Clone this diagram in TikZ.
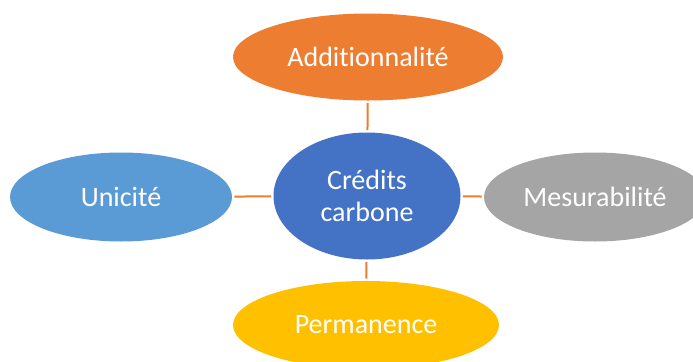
\documentclass[tikz,border=0pt]{standalone}
\usepackage{fontspec}
\setmainfont{Carlito}[Ligatures=NoCommon]
\usepackage{tikz}
\usetikzlibrary{shapes.geometric}
\definecolor{ofOrange}{HTML}{ED7D31}
\definecolor{ofBlue}{HTML}{4472C4}
\definecolor{ofLightBlue}{HTML}{5B9BD5}
\definecolor{ofGrey}{HTML}{A5A5A5}
\definecolor{ofGold}{HTML}{FFC000}
\tikzset{
  bubble/.style={ellipse,inner sep=0pt,text=white,
    font=\fontsize{21}{24}\selectfont,align=center,
    minimum width=166.5pt,minimum height=66.75pt},
  link/.style={draw=ofOrange,line width=1.5pt,
    shorten >=1.5pt,shorten <=1.5pt}
}

\begin{document}
\begin{tikzpicture}[x=0.75pt,y=-0.75pt]
\clip (0,0) rectangle (693,361);
\fill[white] (0,0) rectangle (693,361);

\node (ctr) at (367,196) [bubble,fill=ofBlue,minimum width=140.25pt,minimum height=95.25pt] {Crédits\\carbone};
\node (add) at (368,57) [bubble,fill=ofOrange,minimum width=202.5pt,minimum height=65.25pt] {Additionnalité};
\node (uni) at (121,197) [bubble,fill=ofLightBlue] {Unicité};
\node (mes) at (595,197) [bubble,fill=ofGrey] {Mesurabilité};
\node (perm) at (366,325) [bubble,fill=ofGold,minimum width=199.5pt,minimum height=66pt] {Permanence};

\draw[link] (ctr) edge (add);
\draw[link] (ctr) edge (uni);
\draw[link] (ctr) edge (mes);
\draw[link] (ctr) edge (perm);

\end{tikzpicture}
\end{document}
